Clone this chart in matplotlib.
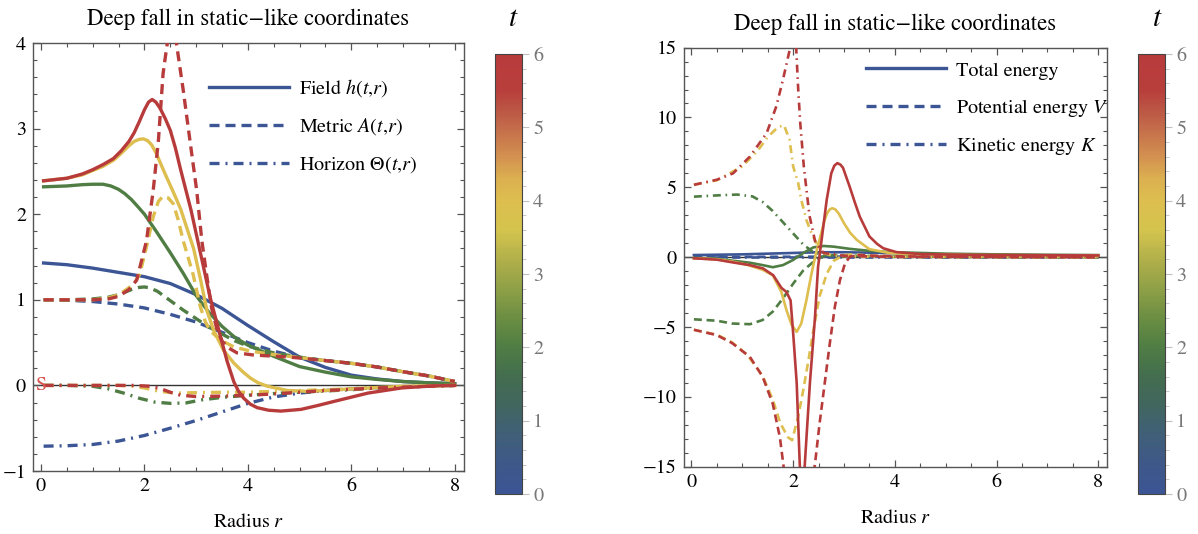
import matplotlib
matplotlib.use('Agg')
import matplotlib.pyplot as plt
import numpy as np
from matplotlib.colors import LinearSegmentedColormap, Normalize
from matplotlib.cm import ScalarMappable
from matplotlib.lines import Line2D
from matplotlib.ticker import MultipleLocator

plt.rcParams.update({'font.family': 'STIXGeneral', 'mathtext.fontset': 'stix', 'font.size': 12})

# times of the four snapshots
times = [0, 2, 4, 6]

# colour scale (DarkRainbow-like), positions on t/6
cmap_pos = [0.0, 0.067, 0.133, 0.2, 0.267, 0.333, 0.4, 0.467, 0.533, 0.6, 0.667, 0.717, 0.767, 0.833, 0.867, 0.917, 1.0]
cmap_hex = ['#3C5595', '#3E5889', '#405F78', '#41665F', '#436D4E', '#4F7D44', '#6B8E42', '#8FA047',
            '#B1B04A', '#D4C44E', '#DDBE4F', '#DCB050', '#D39150', '#C46C4A', '#BC5A45', '#B83F3C', '#B83B3B']

# ---- left panel: field h, metric A, horizon Theta ----
field_r_0 = [0.05, 0.5, 1.0, 1.5, 2.0, 2.5, 3.0, 3.5, 4.0, 4.5, 5.0, 5.5, 6.0, 6.5, 7.0, 7.5, 8.0]
field_h_0 = [1.43, 1.41, 1.37, 1.32, 1.27, 1.19, 1.06, 0.90, 0.70, 0.51, 0.33, 0.21, 0.12, 0.075, 0.045, 0.03, 0.02]
field_r_2 = [0.05, 0.5, 0.8, 1.0, 1.2, 1.35, 1.5, 1.62, 1.75, 1.87, 2.0, 2.25, 2.5, 2.75, 3.0, 3.25, 3.5, 3.75, 4.0, 4.5, 5.0, 5.5, 6.0, 6.5, 7.0, 7.5, 8.0]
field_h_2 = [2.32, 2.33, 2.345, 2.35, 2.35, 2.33, 2.29, 2.24, 2.17, 2.09, 2.00, 1.78, 1.55, 1.31, 1.05, 0.85, 0.69, 0.56, 0.47, 0.34, 0.22, 0.155, 0.10, 0.07, 0.045, 0.03, 0.02]
field_r_4 = [0.05, 0.5, 0.8, 1.0, 1.2, 1.4, 1.55, 1.7, 1.8, 1.9, 1.98, 2.06, 2.14, 2.22, 2.3, 2.4, 2.55, 2.7, 2.95, 3.08, 3.21, 3.34, 3.53, 3.73, 3.9, 4.05, 4.2, 4.38, 4.77, 5.2, 6.0, 7.0, 8.0]
field_h_4 = [2.39, 2.42, 2.46, 2.51, 2.56, 2.63, 2.71, 2.80, 2.85, 2.875, 2.88, 2.86, 2.81, 2.72, 2.61, 2.47, 2.27, 2.06, 1.60, 1.25, 0.87, 0.64, 0.41, 0.26, 0.16, 0.085, 0.03, -0.01, -0.06, -0.07, -0.04, -0.01, 0.0]
field_r_6 = [0.05, 0.5, 0.8, 1.0, 1.2, 1.4, 1.55, 1.7, 1.8, 1.9, 2.0, 2.08, 2.15, 2.22, 2.3, 2.4, 2.5, 2.6, 2.7, 2.9, 3.1, 3.27, 3.47, 3.6, 3.73, 3.82, 3.92, 4.05, 4.18, 4.4, 4.64, 5.03, 5.35, 5.68, 6.32, 6.97, 7.6, 8.0]
field_h_6 = [2.39, 2.42, 2.47, 2.52, 2.58, 2.65, 2.74, 2.85, 2.95, 3.08, 3.22, 3.31, 3.34, 3.31, 3.24, 3.12, 2.98, 2.77, 2.52, 2.05, 1.50, 1.03, 0.57, 0.28, 0.04, -0.07, -0.15, -0.22, -0.26, -0.29, -0.30, -0.28, -0.235, -0.185, -0.09, -0.03, -0.005, 0.0]

metric_r_0 = [0.05, 0.5, 1.0, 1.5, 2.0, 2.5, 3.0, 3.5, 4.0, 4.5, 5.0, 5.5, 6.0, 6.5, 7.0, 7.5, 8.0]
metric_a_0 = [1.0, 0.995, 0.98, 0.95, 0.905, 0.83, 0.74, 0.62, 0.50, 0.40, 0.325, 0.29, 0.258, 0.215, 0.16, 0.11, 0.046]
metric_r_2 = [0.05, 0.5, 1.0, 1.3, 1.5, 1.75, 1.9, 2.0, 2.1, 2.25, 2.5, 2.75, 3.0, 3.25, 3.5, 3.75, 4.0, 4.5, 5.0, 5.5, 6.0, 6.5, 7.0, 7.5, 8.0]
metric_a_2 = [1.0, 1.0, 1.01, 1.03, 1.06, 1.12, 1.145, 1.15, 1.14, 1.10, 0.99, 0.88, 0.78, 0.68, 0.60, 0.52, 0.46, 0.38, 0.33, 0.29, 0.258, 0.215, 0.16, 0.11, 0.046]
metric_r_4 = [0.05, 0.5, 1.0, 1.3, 1.5, 1.7, 1.82, 1.91, 2.04, 2.17, 2.27, 2.36, 2.46, 2.56, 2.65, 2.75, 2.94, 3.08, 3.18, 3.27, 3.47, 3.73, 4.05, 4.57, 5.0, 5.5, 6.0, 6.5, 7.0, 7.5, 8.0]
metric_a_4 = [1.0, 1.0, 1.0, 1.02, 1.06, 1.14, 1.21, 1.30, 1.62, 1.97, 2.15, 2.21, 2.19, 2.12, 1.94, 1.69, 1.30, 0.92, 0.74, 0.64, 0.53, 0.45, 0.40, 0.354, 0.325, 0.29, 0.258, 0.215, 0.16, 0.11, 0.046]
metric_r_6 = [0.05, 0.5, 1.0, 1.3, 1.5, 1.7, 1.85, 2.04, 2.17, 2.27, 2.36, 2.43, 2.53, 2.62, 2.75, 2.88, 3.01, 3.11, 3.2, 3.3, 3.4, 3.5, 3.62, 3.79, 4.12, 4.7, 5.0, 5.5, 6.0, 6.5, 7.0, 7.5, 8.0]
metric_a_6 = [1.0, 1.0, 1.0, 1.01, 1.04, 1.12, 1.23, 1.69, 2.28, 2.86, 3.64, 3.95, 4.3, 3.99, 3.45, 2.86, 2.28, 1.69, 1.30, 0.90, 0.66, 0.52, 0.44, 0.38, 0.354, 0.335, 0.32, 0.29, 0.258, 0.215, 0.16, 0.11, 0.046]

horizon_r_0 = [0.05, 0.5, 1.0, 1.5, 2.0, 2.5, 3.0, 3.5, 4.0, 4.5, 5.0, 5.5, 6.0, 6.5, 7.0, 7.5, 8.0]
horizon_0 = [-0.71, -0.705, -0.69, -0.65, -0.585, -0.50, -0.41, -0.31, -0.21, -0.135, -0.09, -0.06, -0.04, -0.025, -0.015, -0.007, 0.0]
horizon_r_2 = [0.05, 0.5, 1.0, 1.3, 1.6, 1.9, 2.2, 2.5, 2.8, 3.1, 3.5, 4.0, 4.5, 5.0, 5.5, 6.0, 6.5, 7.0, 7.5, 8.0]
horizon_2 = [0.0, 0.0, -0.01, -0.04, -0.09, -0.15, -0.195, -0.21, -0.205, -0.17, -0.14, -0.115, -0.095, -0.08, -0.065, -0.05, -0.03, -0.02, -0.01, 0.0]
horizon_r_4 = [0.05, 1.5, 1.8, 2.0, 2.3, 2.6, 3.0, 3.5, 4.0, 4.5, 5.0, 5.5, 6.0, 6.5, 7.0, 7.5, 8.0]
horizon_4 = [0.0, 0.0, -0.01, -0.03, -0.07, -0.09, -0.085, -0.08, -0.08, -0.07, -0.06, -0.05, -0.04, -0.03, -0.02, -0.01, 0.0]
horizon_r_6 = [0.05, 1.8, 2.1, 2.3, 2.5, 2.7, 3.0, 3.5, 4.0, 4.5, 5.0, 5.5, 6.0, 6.5, 7.0, 7.5, 8.0]
horizon_6 = [0.0, 0.0, -0.01, -0.035, -0.08, -0.115, -0.13, -0.125, -0.115, -0.1, -0.08, -0.06, -0.045, -0.03, -0.02, -0.01, 0.0]

# ---- right panel: total, potential V, kinetic K ----
total_r_0 = [0.05, 1.0, 2.0, 2.5, 3.0, 3.5, 4.0, 5.0, 6.0, 7.0, 8.0]
total_0 = [0.15, 0.2, 0.3, 0.35, 0.35, 0.32, 0.28, 0.2, 0.15, 0.13, 0.12]
total_r_2 = [0.05, 0.5, 0.8, 1.15, 1.4, 1.6, 1.8, 2.0, 2.2, 2.4, 2.6, 2.8, 3.1, 3.5, 4.0, 5.0, 6.0, 7.0, 8.0]
total_2 = [-0.05, -0.12, -0.25, -0.4, -0.57, -0.72, -0.57, -0.2, 0.3, 0.7, 0.8, 0.75, 0.6, 0.45, 0.35, 0.25, 0.2, 0.17, 0.15]
total_r_4 = [0.05, 0.5, 0.82, 1.1, 1.4, 1.6, 1.77, 1.87, 1.97, 2.07, 2.16, 2.26, 2.36, 2.45, 2.52, 2.62, 2.67, 2.72, 2.77, 2.83, 2.9, 3.0, 3.12, 3.25, 3.5, 3.9, 4.5, 5.5, 8.0]
total_4 = [-0.08, -0.15, -0.33, -0.55, -0.9, -1.3, -2.5, -3.8, -4.85, -5.35, -4.75, -3.1, -1.2, 0.3, 1.24, 2.67, 3.15, 3.42, 3.5, 3.42, 3.1, 2.43, 1.75, 1.24, 0.57, 0.29, 0.2, 0.15, 0.12]
total_r_6 = [0.05, 0.5, 0.82, 1.15, 1.41, 1.61, 1.77, 1.87, 1.95, 2.0, 2.07, 2.13, 2.18, 2.23, 2.33, 2.43, 2.49, 2.56, 2.66, 2.75, 2.81, 2.87, 2.93, 2.98, 3.11, 3.21, 3.31, 3.5, 3.65, 3.77, 4.03, 4.5, 5.5, 8.0]
total_6 = [-0.08, -0.18, -0.38, -0.57, -0.81, -1.3, -2.2, -2.5, -3.1, -5.4, -9.0, -14.8, -17.5, -14.8, -9.0, -4.3, -0.7, 1.24, 4.1, 6.0, 6.55, 6.73, 6.62, 6.4, 5.06, 3.95, 2.9, 1.48, 0.95, 0.64, 0.36, 0.22, 0.16, 0.12]

potential_r_0 = [0.05, 1.0, 2.0, 3.0, 4.0, 5.0, 6.0, 7.0, 8.0]
potential_0 = [0.02, 0.02, 0.03, 0.04, 0.04, 0.03, 0.02, 0.02, 0.02]
potential_r_2 = [0.05, 0.5, 0.8, 1.15, 1.4, 1.6, 1.8, 2.0, 2.2, 2.4, 2.55, 2.8, 3.2, 4.0, 5.0, 6.0, 8.0]
potential_2 = [-4.45, -4.55, -4.75, -4.8, -4.5, -3.9, -2.95, -1.9, -0.95, -0.33, 0.0, 0.15, 0.1, 0.05, 0.03, 0.02, 0.0]
potential_r_4 = [0.05, 0.5, 0.8, 1.1, 1.4, 1.6, 1.75, 1.9, 1.98, 2.1, 2.2, 2.3, 2.4, 2.52, 2.66, 2.8, 3.0, 3.2, 3.5, 4.0, 5.0, 6.0, 7.0, 8.0]
potential_4 = [-5.2, -5.55, -6.1, -7.0, -8.5, -10.2, -11.9, -12.9, -13.1, -11.4, -9.5, -7.4, -5.2, -2.8, -1.2, -0.25, 0.15, 0.2, 0.1, 0.05, 0.03, 0.02, 0.01, 0.0]
potential_r_6 = [0.05, 0.5, 0.8, 1.15, 1.4, 1.6, 1.74, 1.82, 1.95, 2.1, 2.25, 2.38, 2.43, 2.52, 2.62, 2.72, 2.82, 2.92, 3.02, 3.12, 3.3, 3.6, 4.0, 5.0, 6.0, 8.0]
potential_6 = [-5.2, -5.58, -6.15, -7.14, -8.55, -10.5, -12.9, -15.2, -19.0, -21.0, -19.0, -16.0, -14.8, -11.9, -9.05, -6.2, -3.56, -1.65, -0.45, 0.05, 0.15, 0.1, 0.06, 0.03, 0.02, 0.0]

kinetic_r_0 = [0.05, 2.0, 4.0, 6.0, 8.0]
kinetic_0 = [0.0, 0.0, 0.0, 0.0, 0.0]
kinetic_r_2 = [0.05, 0.5, 0.9, 1.2, 1.4, 1.6, 1.8, 2.0, 2.2, 2.4, 2.6, 3.0, 4.0, 5.0, 8.0]
kinetic_2 = [4.33, 4.42, 4.48, 4.35, 3.95, 3.3, 2.5, 1.7, 0.9, 0.35, 0.15, 0.08, 0.03, 0.01, 0.0]
kinetic_r_4 = [0.05, 0.5, 1.0, 1.3, 1.5, 1.7, 1.82, 1.93, 2.0, 2.1, 2.16, 2.26, 2.36, 2.46, 2.59, 2.8, 3.2, 4.0, 8.0]
kinetic_4 = [5.18, 5.5, 6.5, 7.6, 8.6, 9.3, 9.45, 8.4, 6.5, 5.3, 4.1, 2.67, 1.72, 1.0, 0.29, 0.1, 0.05, 0.02, 0.0]
kinetic_r_6 = [0.05, 0.5, 0.82, 1.15, 1.48, 1.67, 1.80, 1.93, 2.0, 2.06, 2.10, 2.14, 2.21, 2.32, 2.44, 2.6, 3.0, 3.5, 4.0, 8.0]
kinetic_6 = [5.18, 5.54, 6.0, 7.2, 8.88, 10.8, 12.7, 14.8, 16.0, 15.0, 12.0, 9.6, 6.5, 3.0, 1.0, 0.3, 0.1, 0.05, 0.02, 0.0]

left_legend = ['Field $h(t{,}r)$', 'Metric $A(t{,}r)$', r'Horizon $\Theta(t{,}r)$']
right_legend = ['Total energy', 'Potential energy $V$', 'Kinetic energy $K$']
title = 'Deep fall in static\u2212like coordinates'

dark_rainbow = LinearSegmentedColormap.from_list('dark_rainbow', list(zip(cmap_pos, cmap_hex)))
norm = Normalize(0, 6)
frame_col = '#555555'


def dash_styles():
    # solid, dashed, dot-dashed (lengths in units of line width)
    return [dict(linestyle='-'), dict(dashes=(3.0, 1.8)), dict(dashes=(3.0, 1.8, 0.6, 1.8))]


def style_axes(ax, ylim, ymaj, ymin):
    ax.set_xlim(-0.155, 8.17)
    ax.set_ylim(*ylim)
    ax.xaxis.set_major_locator(MultipleLocator(2))
    ax.xaxis.set_minor_locator(MultipleLocator(0.5))
    ax.yaxis.set_major_locator(MultipleLocator(ymaj))
    ax.yaxis.set_minor_locator(MultipleLocator(ymin))
    ax.tick_params(which='both', direction='in', top=True, right=True, color=frame_col, labelsize=14.5)
    ax.tick_params(which='major', length=5, width=0.9, pad=5)
    ax.tick_params(which='minor', length=2.8, width=0.8)
    for s in ax.spines.values():
        s.set_color(frame_col)
        s.set_linewidth(1.0)
    ax.axhline(0, color='#333333', lw=1.0, zorder=1.5)
    ax.set_title(title, fontsize=16.4, pad=13)
    ax.set_xlabel('Radius $r$', fontsize=14.5, labelpad=13)


def add_colorbar(fig, rect, tx):
    cax = fig.add_axes(rect)
    cb = fig.colorbar(ScalarMappable(norm=norm, cmap=dark_rainbow), cax=cax)
    cb.set_ticks(range(7))
    cax.yaxis.set_minor_locator(MultipleLocator(0.2))
    cax.tick_params(which='both', color='#c0c0c0', labelcolor='#777777', labelsize=14.5)
    cax.tick_params(which='major', length=5, width=0.8, pad=3)
    cax.tick_params(which='minor', length=3, width=0.6)
    cb.outline.set_edgecolor('#444444')
    cb.outline.set_linewidth(0.8)
    fig.text(tx, 1 - 19 / 534, '$t$', fontsize=21, ha='center', va='center')


fig = plt.figure(figsize=(11.98, 5.34), dpi=100)

# ---------------- left panel ----------------
axl = fig.add_axes([33 / 1198, 1 - 471 / 534, 430.5 / 1198, 428 / 534])
style_axes(axl, (-1, 4), 1, 0.2)
left_sets = [
    [(field_r_0, field_h_0), (field_r_2, field_h_2), (field_r_4, field_h_4), (field_r_6, field_h_6)],
    [(metric_r_0, metric_a_0), (metric_r_2, metric_a_2), (metric_r_4, metric_a_4), (metric_r_6, metric_a_6)],
    [(horizon_r_0, horizon_0), (horizon_r_2, horizon_2), (horizon_r_4, horizon_4), (horizon_r_6, horizon_6)],
]
lw_l = 2.4
for k, t in enumerate(times):
    for fam, st in zip(left_sets, dash_styles()):
        r, v = fam[k]
        axl.plot(r, v, color=dark_rainbow(norm(t)), lw=lw_l, zorder=2 + k, solid_joinstyle='round', **st)
axl.text(0, 0, 'S', color='#D9534F', fontsize=14.5, ha='center', va='center', zorder=10)
handles = [Line2D([], [], color=dark_rainbow(0.0), lw=lw_l, **st) for st in dash_styles()]
axl.legend(handles, left_legend, loc='upper left', bbox_to_anchor=(0.409, 0.92), frameon=False,
           fontsize=14.5, handlelength=3.95, handletextpad=0.5, labelspacing=0.85, borderpad=0, borderaxespad=0)
add_colorbar(fig, [495 / 1198, 1 - 494 / 534, 27 / 1198, 440 / 534], 513 / 1198)

# ---------------- right panel ----------------
axr = fig.add_axes([683.5 / 1198, 1 - 466.7 / 534, 423.5 / 1198, 419.1 / 534])
style_axes(axr, (-15, 15), 5, 1)
right_sets = [
    [(total_r_0, total_0), (total_r_2, total_2), (total_r_4, total_4), (total_r_6, total_6)],
    [(potential_r_0, potential_0), (potential_r_2, potential_2), (potential_r_4, potential_4), (potential_r_6, potential_6)],
    [(kinetic_r_0, kinetic_0), (kinetic_r_2, kinetic_2), (kinetic_r_4, kinetic_4), (kinetic_r_6, kinetic_6)],
]
lw_r = 1.9
for k, t in enumerate(times):
    for fam, st in zip(right_sets, dash_styles()):
        r, v = fam[k]
        axr.plot(r, v, color=dark_rainbow(norm(t)), lw=lw_r, zorder=2 + k, solid_joinstyle='round', **st)
handles = [Line2D([], [], color=dark_rainbow(0.0), lw=lw_l, **st) for st in dash_styles()]
axr.legend(handles, right_legend, loc='upper left', bbox_to_anchor=(0.431, 0.967), frameon=False,
           fontsize=14.5, handlelength=3.95, handletextpad=0.5, labelspacing=0.86, borderpad=0, borderaxespad=0)
add_colorbar(fig, [1138 / 1198, 1 - 494 / 534, 27 / 1198, 440 / 534], 1157 / 1198)

fig.savefig('out.png', dpi=100)
